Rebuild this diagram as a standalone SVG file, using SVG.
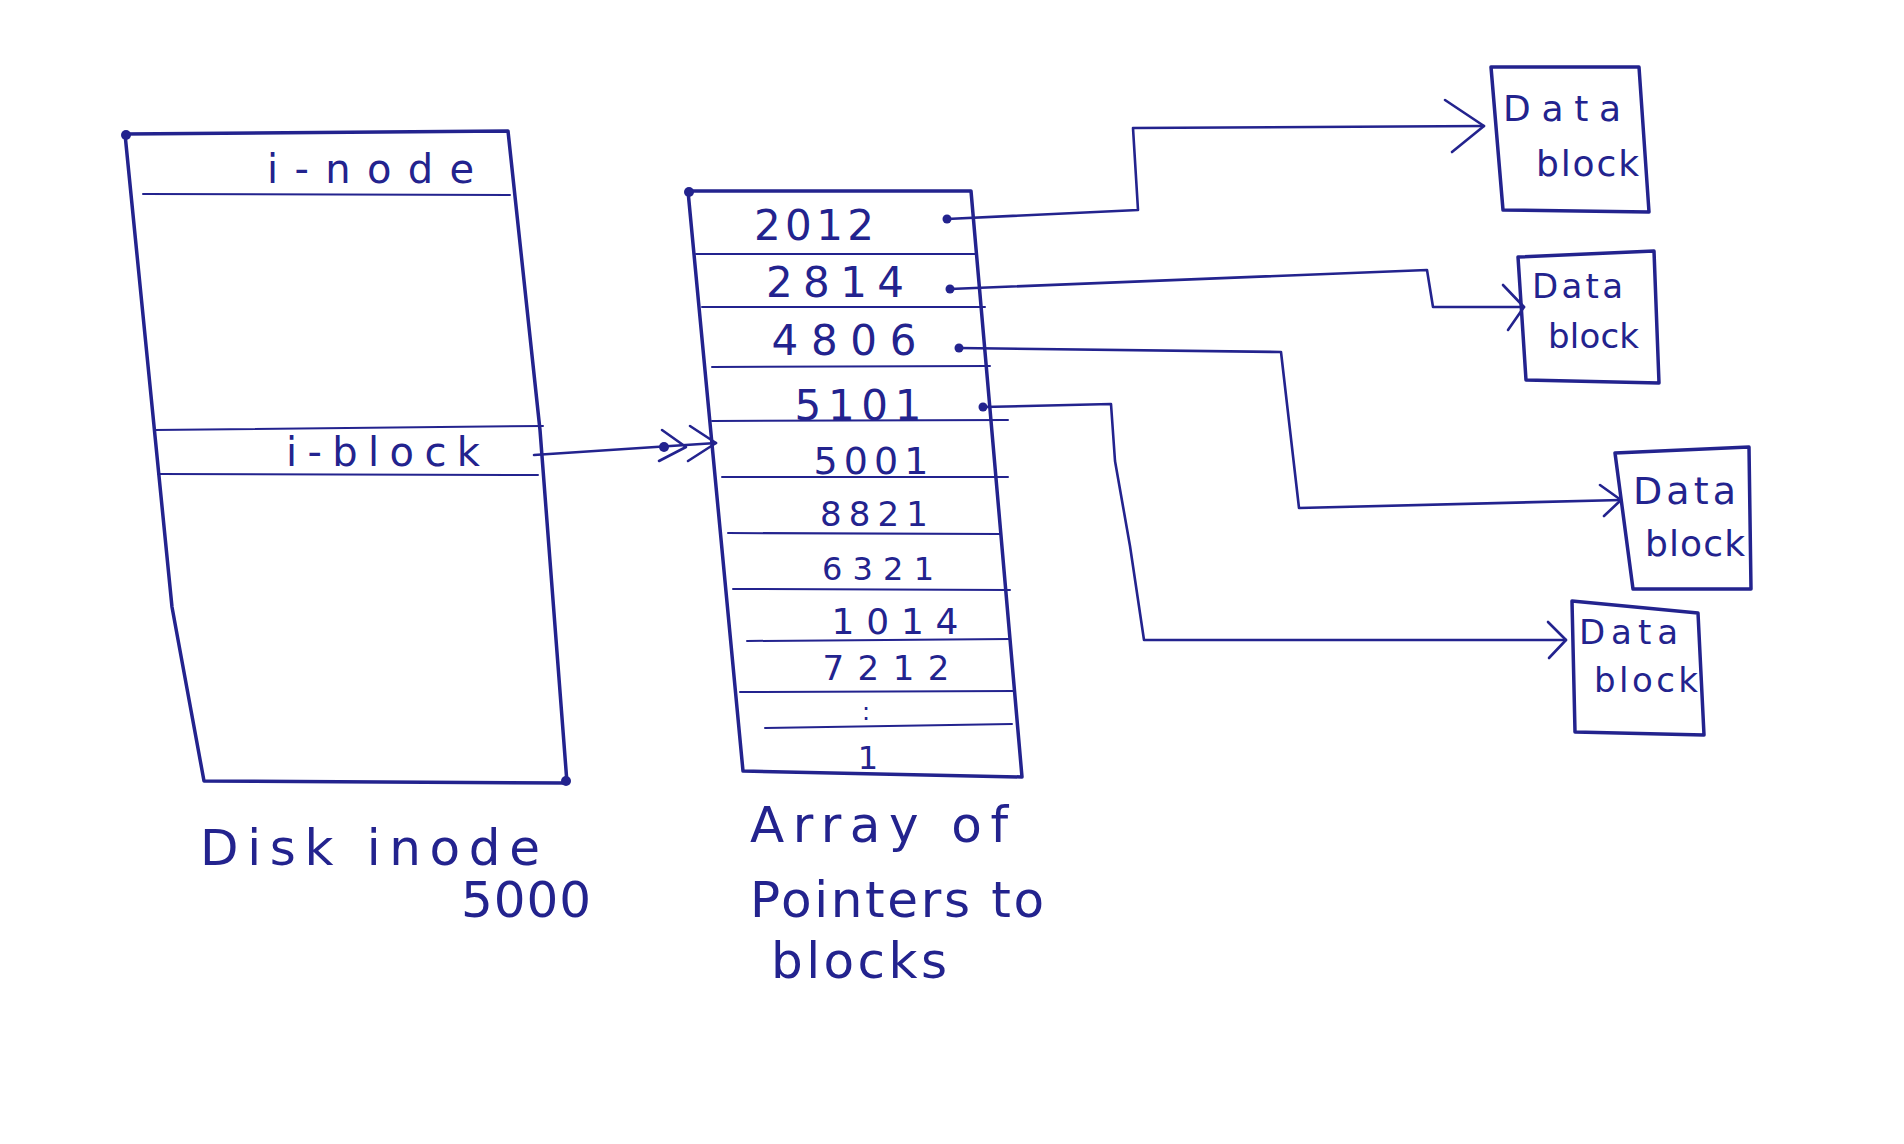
<svg xmlns="http://www.w3.org/2000/svg" width="1904" height="1144" viewBox="0 0 1904 1144">
<style>
.box{fill:none;stroke:#23238e;stroke-width:3.5;stroke-linejoin:round;stroke-linecap:round}
.row{fill:none;stroke:#23238e;stroke-width:2;stroke-linecap:round}
.con{fill:none;stroke:#23238e;stroke-width:2.6;stroke-linejoin:round;stroke-linecap:round}
.t{font-family:"DejaVu Sans","Liberation Sans",sans-serif;fill:#23238e}
.dot{fill:#23238e}
</style>
<rect width="1904" height="1144" fill="#ffffff"/>

<g id="disk-inode">
<path class="box" d="M125,134 L508,131 L540,430 L567,783 L204,781 L172,607 Z"/>
<line class="row" x1="143" y1="194" x2="510" y2="195"/>
<line class="row" x1="154" y1="430" x2="543" y2="426"/>
<line class="row" x1="158" y1="474" x2="538" y2="475"/>
<circle class="dot" cx="126" cy="135" r="5"/>
<circle class="dot" cx="566" cy="781" r="5"/>
<text class="t" x="267" y="183" font-size="40" textLength="207" lengthAdjust="spacing">i-node</text>
<text class="t" x="286" y="466" font-size="40" textLength="194" lengthAdjust="spacing">i-block</text>
<text class="t" x="200" y="865" font-size="50" textLength="340" lengthAdjust="spacing">Disk inode</text>
<text class="t" x="461" y="917" font-size="50" textLength="130" lengthAdjust="spacing">5000</text>
</g>

<g id="pointer-array">
<path class="box" d="M688,191 L971,191 L1022,777 L743,771 Z"/>
<line class="row" x1="696" y1="254" x2="976" y2="254"/>
<line class="row" x1="702" y1="307" x2="985" y2="307"/>
<line class="row" x1="712" y1="367" x2="990" y2="366"/>
<line class="row" x1="712" y1="421" x2="1008" y2="420"/>
<line class="row" x1="722" y1="477" x2="1008" y2="477"/>
<line class="row" x1="728" y1="533" x2="1000" y2="534"/>
<line class="row" x1="733" y1="589" x2="1010" y2="590"/>
<line class="row" x1="747" y1="641" x2="1010" y2="639"/>
<line class="row" x1="740" y1="692" x2="1015" y2="691"/>
<line class="row" x1="765" y1="728" x2="1012" y2="724"/>
<circle class="dot" cx="689" cy="192" r="5"/>
<g text-anchor="middle">
<text class="t" x="814" y="240" font-size="42" textLength="120" lengthAdjust="spacing">2012</text>
<text class="t" x="835" y="297" font-size="42" textLength="138" lengthAdjust="spacing">2814</text>
<text class="t" x="844" y="355" font-size="42" textLength="145" lengthAdjust="spacing">4806</text>
<text class="t" x="858" y="420" font-size="42" textLength="127" lengthAdjust="spacing">5101</text>
<text class="t" x="871" y="474" font-size="38" textLength="115" lengthAdjust="spacing">5001</text>
<text class="t" x="874" y="526" font-size="34" textLength="108" lengthAdjust="spacing">8821</text>
<text class="t" x="878" y="580" font-size="32" textLength="112" lengthAdjust="spacing">6321</text>
<text class="t" x="895" y="634" font-size="36" textLength="127" lengthAdjust="spacing">1014</text>
<text class="t" x="886" y="680" font-size="34" textLength="127" lengthAdjust="spacing">7212</text>
<text class="t" x="866" y="720" font-size="24">:</text>
<text class="t" x="868" y="769" font-size="32">1</text>
</g>
<text class="t" x="750" y="842" font-size="50" textLength="258" lengthAdjust="spacing">Array of</text>
<text class="t" x="750" y="917" font-size="50" textLength="294" lengthAdjust="spacing">Pointers to</text>
<text class="t" x="771" y="978" font-size="50" textLength="176" lengthAdjust="spacing">blocks</text>
</g>

<g id="data-block-1">
<path class="box" d="M1491,67 L1639,67 L1649,212 L1503,210 Z"/>
<text class="t" x="1503" y="121" font-size="36" textLength="118" lengthAdjust="spacing">Data</text>
<text class="t" x="1536" y="176" font-size="36" textLength="103" lengthAdjust="spacing">block</text>
</g>
<g id="data-block-2">
<path class="box" d="M1518,257 L1654,251 L1659,383 L1526,380 Z"/>
<text class="t" x="1532" y="298" font-size="34" textLength="91" lengthAdjust="spacing">Data</text>
<text class="t" x="1548" y="348" font-size="34" textLength="91" lengthAdjust="spacing">block</text>
</g>
<g id="data-block-3">
<path class="box" d="M1615,453 L1749,447 L1751,589 L1633,589 Z"/>
<text class="t" x="1633" y="504" font-size="38" textLength="103" lengthAdjust="spacing">Data</text>
<text class="t" x="1645" y="556" font-size="36" textLength="100" lengthAdjust="spacing">block</text>
</g>
<g id="data-block-4">
<path class="box" d="M1572,601 L1698,613 L1704,735 L1575,732 Z"/>
<text class="t" x="1579" y="644" font-size="34" textLength="99" lengthAdjust="spacing">Data</text>
<text class="t" x="1594" y="692" font-size="34" textLength="104" lengthAdjust="spacing">block</text>
</g>

<g id="connectors">
<path class="con" d="M534,455 L716,443"/>
<path class="con" d="M662,430 L686,447 L659,461"/>
<path class="con" d="M690,426 L716,443 L688,461"/>
<circle class="dot" cx="664" cy="447" r="5"/>

<circle class="dot" cx="947" cy="219" r="4.5"/>
<path class="con" d="M947,219 L1138,210 L1133,128 L1484,126"/>
<path class="con" d="M1445,100 L1484,126 L1452,152"/>

<circle class="dot" cx="950" cy="289" r="4.5"/>
<path class="con" d="M950,289 L1427,270 L1433,307 L1524,307"/>
<path class="con" d="M1503,285 L1524,307 L1508,330"/>

<circle class="dot" cx="959" cy="348" r="4.5"/>
<path class="con" d="M959,348 L1281,352 L1299,508 L1621,500"/>
<path class="con" d="M1600,485 L1621,500 L1604,516"/>

<circle class="dot" cx="983" cy="407" r="4.5"/>
<path class="con" d="M983,407 L1111,404 L1115,461 L1130,546 L1144,640 L1566,640"/>
<path class="con" d="M1548,622 L1566,640 L1549,658"/>
</g>
</svg>
